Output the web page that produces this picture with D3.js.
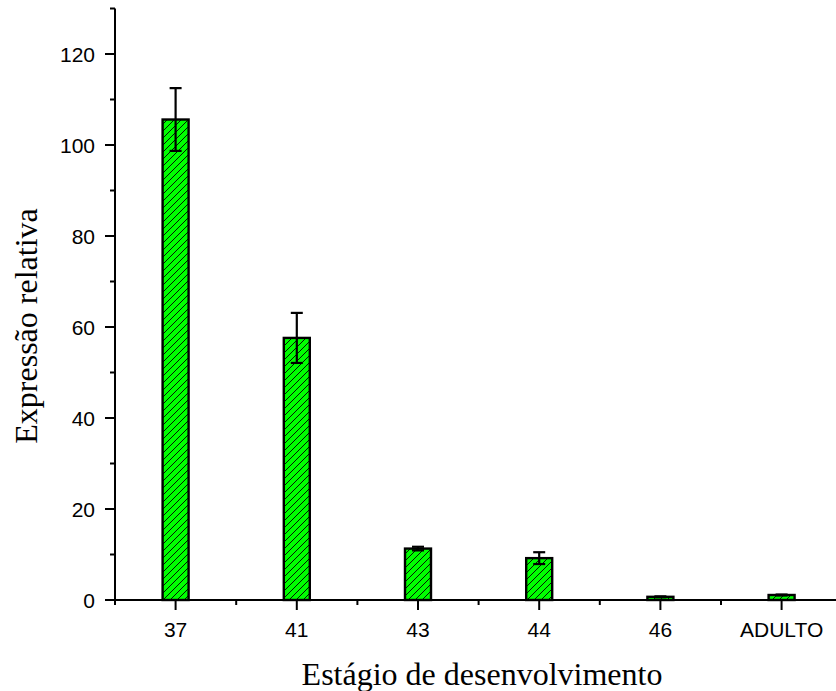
<!DOCTYPE html>
<html><head><meta charset="utf-8">
<script src="https://cdn.jsdelivr.net/npm/d3@7"></script>
<style>body{margin:0;background:#fff}</style>
</head><body>
<script>
const categories = ["37","41","43","44","46","ADULTO"];
const values = [105.6, 57.6, 11.3, 9.2, 0.7, 1.1];
const errors = [6.9, 5.5, 0.4, 1.3, 0.1, 0.1];
const yTicks = [0,20,40,60,80,100,120];
const yMinor = [10,30,50,70,90,110,130];

const W = 836, H = 691;
const SANS = "'Liberation Sans', Arial, sans-serif";
const SERIF = "'Liberation Serif', 'Times New Roman', serif";
const svg = d3.select("body").append("svg").attr("width", W).attr("height", H);
const defs = svg.append("defs");
const P = 7;
const pat = defs.append("pattern").attr("id","hatch").attr("patternUnits","userSpaceOnUse")
  .attr("width",P).attr("height",P);
pat.append("rect").attr("width",P).attr("height",P).attr("fill","#00ff00");
pat.append("path").attr("d",`M-1,1 l2,-2 M0,${P} l${P},-${P} M${P-1},${P+1} l2,-2`).attr("stroke","#000").attr("stroke-width",0.9);

const x0 = 115, yBase = 600;
const x = d3.scaleBand().domain(categories).range([x0, x0 + 6*121.2]).padding(0);
const y = d3.scaleLinear().domain([0,130]).range([yBase, yBase - 130*4.55]);

const g = svg.append("g");
const bw = 26;
g.selectAll("rect.bar").data(categories).join("rect").attr("class","bar")
  .attr("x", d => x(d) + x.bandwidth()/2 - bw/2)
  .attr("y", (d,i) => y(values[i]))
  .attr("width", bw)
  .attr("height", (d,i) => y(0) - y(values[i]))
  .attr("fill","url(#hatch)").attr("stroke","#000").attr("stroke-width",2.4);

const eb = g.selectAll("g.err").data(categories).join("g").attr("class","err");
eb.append("line").attr("x1", d => x(d)+x.bandwidth()/2).attr("x2", d => x(d)+x.bandwidth()/2)
  .attr("y1",(d,i)=>y(values[i]+errors[i])).attr("y2",(d,i)=>y(values[i]-errors[i]))
  .attr("stroke","#000").attr("stroke-width",2.2);
[1,-1].forEach(s=>{
  eb.append("line").attr("x1", d => x(d)+x.bandwidth()/2-6).attr("x2", d => x(d)+x.bandwidth()/2+6)
    .attr("y1",(d,i)=>y(values[i]+s*errors[i])).attr("y2",(d,i)=>y(values[i]+s*errors[i]))
    .attr("stroke","#000").attr("stroke-width",2.2);
});

const ax = svg.append("g").attr("stroke","#000").attr("stroke-width",2);
ax.append("line").attr("x1",x0).attr("x2",x0).attr("y1",y(130)).attr("y2",yBase+1);
ax.append("line").attr("x1",x0-1).attr("x2",W).attr("y1",yBase).attr("y2",yBase);
ax.selectAll("line.ym").data(yTicks).join("line").attr("class","ym").attr("x1",x0-10).attr("x2",x0).attr("y1",d=>y(d)).attr("y2",d=>y(d));
ax.selectAll("line.yn").data(yMinor).join("line").attr("class","yn").attr("x1",x0-5).attr("x2",x0).attr("y1",d=>y(d)).attr("y2",d=>y(d));
ax.selectAll("line.xm").data(categories).join("line").attr("class","xm")
  .attr("x1",d=>x(d)+x.bandwidth()/2).attr("x2",d=>x(d)+x.bandwidth()/2).attr("y1",yBase).attr("y2",yBase+10);
ax.selectAll("line.xn").data(categories).join("line").attr("class","xn")
  .attr("x1",d=>x(d)).attr("x2",d=>x(d)).attr("y1",yBase).attr("y2",yBase+5);

svg.selectAll("text.yl").data(yTicks).join("text").attr("class","yl")
  .attr("x",x0-20).attr("y",d=>y(d)).attr("dy","0.36em").attr("text-anchor","end")
  .attr("font-family",SANS).attr("font-size",21).text(d=>d);
svg.selectAll("text.xl").data(categories).join("text").attr("class","xl")
  .attr("x",d=>x(d)+x.bandwidth()/2).attr("y",637).attr("text-anchor","middle")
  .attr("font-family",SANS).attr("font-size",21).text(d=>d);

svg.append("text").attr("x",482).attr("y",685).attr("text-anchor","middle")
  .attr("font-family",SERIF).attr("font-size",32)
  .text("Estágio de desenvolvimento");
svg.append("text").attr("transform","translate(37,326) rotate(-90)").attr("text-anchor","middle")
  .attr("font-family",SERIF).attr("font-size",32)
  .text("Expressão relativa");
</script>
</body></html>
